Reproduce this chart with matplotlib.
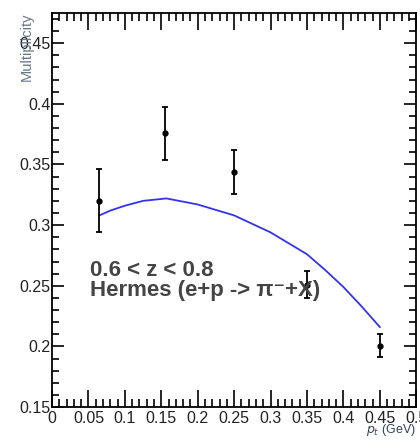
import numpy as np
import matplotlib.pyplot as plt
from matplotlib.ticker import MultipleLocator

plt.rcParams['font.family'] = ['Liberation Sans', 'DejaVu Sans']

# Hermes data points
pt = [0.065, 0.155, 0.25, 0.35, 0.45]
mult = [0.320, 0.376, 0.344, 0.251, 0.200]
err_up = [0.026, 0.021, 0.018, 0.011, 0.010]
err_dn = [0.026, 0.022, 0.018, 0.011, 0.009]

# model curve
curve_pt = [0.065, 0.08, 0.1, 0.125, 0.157, 0.2, 0.25, 0.3, 0.35, 0.375, 0.4, 0.425, 0.45]
curve_mult = [0.308, 0.312, 0.316, 0.320, 0.322, 0.317, 0.308, 0.294, 0.276, 0.263,
              0.249, 0.233, 0.216]

fig = plt.figure(figsize=(4.2, 4.42), dpi=100)
ax = fig.add_axes([0.124, 0.079, 0.867, 0.892])

ax.plot(curve_pt, curve_mult, color='#3333ee', lw=1.3)
ax.errorbar(pt, mult, yerr=[err_dn, err_up], fmt='o', color='black', ms=3.5,
            elinewidth=1.3, capsize=2.2, capthick=1.3)

ax.set_xlim(0, 0.5)
ax.set_ylim(0.15, 0.475)
ax.xaxis.set_minor_locator(MultipleLocator(0.01))
ax.yaxis.set_minor_locator(MultipleLocator(0.01))
ax.set_xticks(np.arange(0, 0.51, 0.05))
ax.set_xticklabels(['0', '0.05', '0.1', '0.15', '0.2', '0.25', '0.3', '0.35', '0.4', '0.45', '0.5'])
ax.set_yticks([0.15, 0.2, 0.25, 0.3, 0.35, 0.4, 0.45])
ax.set_yticklabels(['0.15', '0.2', '0.25', '0.3', '0.35', '0.4', '0.45'])

ax.tick_params(axis='both', which='both', direction='in', top=True, right=True,
               width=1.2, labelsize=11.5, labelcolor='#222222')
ax.tick_params(axis='x', which='major', length=12, pad=3)
ax.tick_params(axis='x', which='minor', length=6)
ax.tick_params(axis='y', which='major', length=8.5, pad=1)
ax.tick_params(axis='y', which='minor', length=5)
for s in ax.spines.values():
    s.set_linewidth(1.3)

ax.text(0.052, 0.2545, '0.6 < z < 0.8\nHermes (e+p -> \u03c0\u207b+X)', fontsize=16,
        fontweight='bold', color='#444444', va='center', linespacing=0.95,
        family=['Liberation Sans', 'DejaVu Sans'])

fig.text(0.063, 0.971, 'Multiplicity', rotation=90, ha='center', va='top',
         fontsize=10.5, color='#667788')
fig.text(0.99, 0.008, '$p_t$ (GeV)', ha='right', va='bottom', fontsize=9, color='#334455')

fig.savefig('out.png', dpi=100)
